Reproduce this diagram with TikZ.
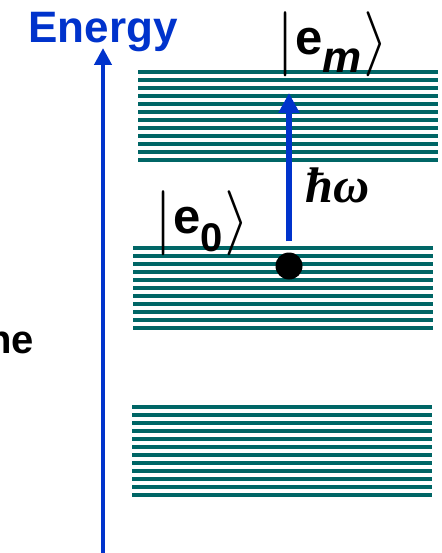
\RequirePackage{fix-cm}
\documentclass[tikz,border=0pt]{standalone}
\usepackage{fontspec}
\setmainfont{Liberation Sans}
\setsansfont{Liberation Sans}
\newfontfamily\hwfont{Liberation Serif}
\usetikzlibrary{arrows.meta}
\definecolor{EnergyBlue}{HTML}{0033CC}
\definecolor{BandTeal}{HTML}{006666}

% ket |e_x> : tall bar, bold e, lowered subscript, tall bracket
\newcommand\ketlabel[1]{%
  \raisebox{-6pt}{\fontsize{65}{65}\selectfont$\vert$}%
  \hspace{1pt}{\fontsize{49}{49}\selectfont e}\raisebox{-18pt}{#1}\hspace{2pt}%
  \raisebox{-6pt}{\fontsize{65}{65}\selectfont$\rangle$}}

\begin{document}
\begin{tikzpicture}[
  x=1pt, y=-1pt,
  % energy band: stack of thick teal lines
  band/.style={draw=BandTeal, line width=4pt},
  % energy axis and excitation arrow
  axisarr/.style={-{Triangle[width=17pt,length=17pt]}, draw=EnergyBlue,
                  line width=4.5pt},
  exciarr/.style={-{Triangle[width=20pt,length=20pt]}, draw=EnergyBlue,
                  line width=6pt},
  % labels
  lbl/.style={inner sep=0pt, font=\fontsize{44}{44}\selectfont\bfseries},
  electron/.style={circle, fill=black, inner sep=0pt, minimum size=27pt},
]
\useasboundingbox (0,0) rectangle (441,553);

%% ── band x-extents and first-line y ─────────────────────────────────────
\def\xTopL{138}  \def\xTopR{438}  \def\yTop{71.7}
\def\xMidL{133}  \def\xMidR{433}  \def\yMid{248}
\def\xLowL{132}  \def\xLowR{432}  \def\yLow{407.3}
\def\dy{8}       % line pitch

%% ── energy bands ─────────────────────────────────────────────────────────
\foreach \k in {0,...,11}
  \draw[band] (\xTopL,{\yTop+\dy*\k}) -- (\xTopR,{\yTop+\dy*\k});
\foreach \k in {0,...,10}
  \draw[band] (\xMidL,{\yMid+\dy*\k}) -- (\xMidR,{\yMid+\dy*\k});
\foreach \k in {0,...,11}
  \draw[band] (\xLowL,{\yLow+\dy*\k}) -- (\xLowR,{\yLow+\dy*\k});

%% ── energy axis ──────────────────────────────────────────────────────────
\coordinate (axbot) at (103,560);
\coordinate (axtop) at (103,48);
\draw[axisarr] (axbot) -- (axtop);
\node[lbl, anchor=base, text=EnergyBlue] (energy) at (103,43) {Energy};
\node[lbl, anchor=base west, font=\fontsize{40}{40}\selectfont\bfseries]
  (side) at (-13,353) {ne};

%% ── electron and excitation ─────────────────────────────────────────────
\node[electron] (dot) at (289,266) {};
\coordinate (exctop) at (289,93);
\draw[exciarr, shorten <=11pt] (dot.north) -- (exctop);
\node[lbl, anchor=base west, font=\fontsize{50}{50}\selectfont\bfseries]
  (hw) at (305,202) {\hwfont\itshape ħω};

%% ── state labels ─────────────────────────────────────────────────────────
\node[lbl, anchor=base west] (em) at (276,55) {\ketlabel{\itshape m}};
\node[lbl, anchor=base west] (e0) at (154,233)
  {\ketlabel{\fontsize{40}{40}\selectfont 0}};

\end{tikzpicture}
\end{document}
